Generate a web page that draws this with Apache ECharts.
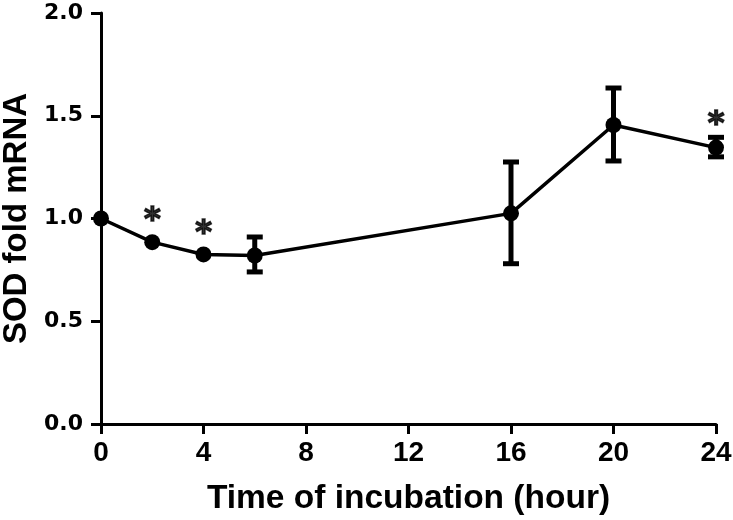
<!DOCTYPE html>
<html><head><meta charset="utf-8">
<script src="https://cdn.jsdelivr.net/npm/echarts@6/dist/echarts.min.js"></script>
<style>html,body{margin:0;padding:0;background:#fff}#c{width:733px;height:520px}</style>
</head><body><div id="c"></div>
<script>
const hours = [0, 2, 4, 6, 16, 20, 24];
const meanFold = [1.00, 0.885, 0.825, 0.82, 1.025, 1.455, 1.345];
const errLow = [null, null, null, 0.74, 0.78, 1.28, 1.30];
const errHigh = [null, null, null, 0.91, 1.275, 1.635, 1.395];
const significant = [2, 4, 24];
const xTicks = [0, 4, 8, 12, 16, 20, 24];
const yTicks = [0.0, 0.5, 1.0, 1.5, 2.0];

const lineData = hours.map((h, i) => [h, meanFold[i]]);
const errData = [];
hours.forEach((h, i) => { if (errLow[i] != null) errData.push([h, errLow[i], errHigh[i]]); });
const starData = significant.map(h => {
  const i = hours.indexOf(h);
  const hasErr = errHigh[i] != null;
  return {value: [h, hasErr ? errHigh[i] : meanFold[i]], label: {distance: hasErr ? -3 : 5}};
});

const font = '"Liberation Sans", Arial, sans-serif';
const chart = echarts.init(document.getElementById('c'), null, {renderer: 'canvas'});
chart.setOption({
  animation: false,
  grid: {left: 101, right: 17, top: 13, bottom: 96, containLabel: false, outerBoundsMode: 'none'},
  xAxis: {
    type: 'value', min: 0, max: 24, interval: 4,
    name: 'Time of incubation (hour)', nameLocation: 'middle', nameGap: 58,
    nameTextStyle: {fontFamily: font, fontWeight: 'bold', fontSize: 33.5, color: '#000'},
    axisLine: {onZero: false, lineStyle: {color: '#000', width: 3}},
    axisTick: {length: 10, lineStyle: {color: '#000', width: 3}},
    axisLabel: {margin: 15, fontFamily: font, fontWeight: 'bold', fontSize: 28, color: '#000',
      formatter: v => xTicks.includes(v) ? String(v) : ''},
    splitLine: {show: false}
  },
  yAxis: {
    type: 'value', min: 0, max: 2, interval: 0.5,
    name: 'SOD fold mRNA', nameLocation: 'middle', nameGap: 68,
    nameTextStyle: {fontFamily: font, fontWeight: 'bold', fontSize: 33, color: '#000'},
    axisLine: {onZero: false, lineStyle: {color: '#000', width: 3}},
    axisTick: {length: 10, lineStyle: {color: '#000', width: 3}},
    axisLabel: {margin: 18, fontFamily: '"DejaVu Sans", sans-serif', fontWeight: 'bold', fontSize: 22, color: '#000',
      formatter: v => yTicks.includes(v) ? v.toFixed(1) : ''},
    splitLine: {show: false}
  },
  series: [
    {
      type: 'custom', z: 3,
      data: errData,
      renderItem: (params, api) => {
        const x = api.value(0);
        const lo = api.coord([x, api.value(1)]);
        const hi = api.coord([x, api.value(2)]);
        const hw = 8;
        const st = {stroke: '#000', lineWidth: 5};
        const capSt = {stroke: '#000', lineWidth: 5};
        return {type: 'group', children: [
          {type: 'line', shape: {x1: lo[0], y1: lo[1], x2: hi[0], y2: hi[1]}, style: st},
          {type: 'line', shape: {x1: hi[0]-hw, y1: hi[1], x2: hi[0]+hw, y2: hi[1]}, style: capSt},
          {type: 'line', shape: {x1: lo[0]-hw, y1: lo[1], x2: lo[0]+hw, y2: lo[1]}, style: capSt}
        ]};
      }
    },
    {
      type: 'line', z: 4, data: lineData,
      symbol: 'circle', symbolSize: 16,
      itemStyle: {color: '#000'},
      lineStyle: {color: '#000', width: 3.5}
    },
    {
      type: 'scatter', z: 5, data: starData, symbolSize: 0, silent: true,
      itemStyle: {color: '#000'},
      label: {show: true, position: 'top', formatter: '*',
        fontFamily: '"DejaVu Sans", sans-serif', fontWeight: 'bold', fontSize: 32, color: '#000',
        textBorderColor: '#000', textBorderWidth: 1.5}
    }
  ]
});
</script></body></html>
